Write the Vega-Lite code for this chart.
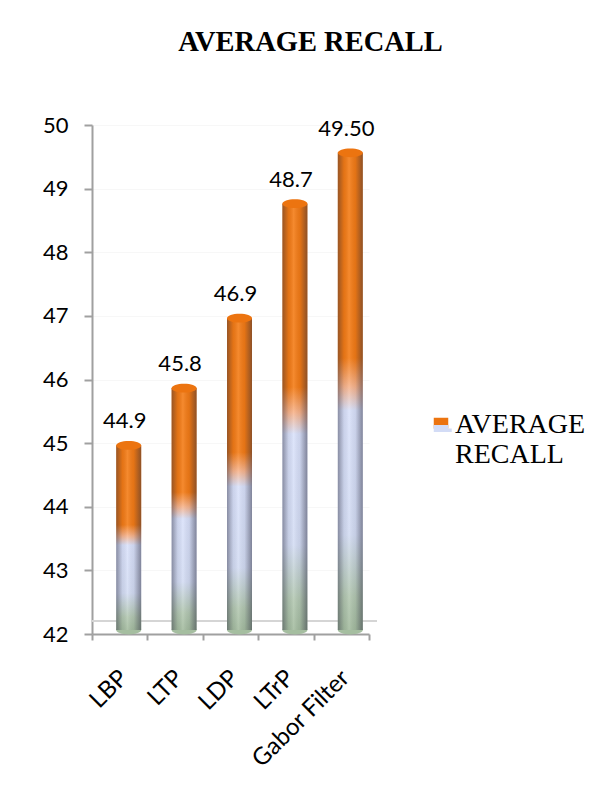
{
  "$schema": "https://vega.github.io/schema/vega-lite/v6.json",
  "width": 277,
  "height": 509,
  "autosize": "none",
  "padding": {"left": 92, "top": 125, "right": 231, "bottom": 175},
  "background": "white",
  "config": {"view": {"stroke": null}},
  "title": {
    "text": "AVERAGE RECALL",
    "font": "Liberation Serif",
    "fontSize": 28.5,
    "fontWeight": "bold",
    "color": "#000000",
    "anchor": "middle",
    "frame": "group",
    "baseline": "alphabetic",
    "dx": 80,
    "offset": 35
  },
  "data": {
    "values": [
      {"method": "LBP", "recall": 44.9, "label": "44.9", "series": "AVERAGE RECALL"},
      {"method": "LTP", "recall": 45.8, "label": "45.8", "series": "AVERAGE RECALL"},
      {"method": "LDP", "recall": 46.9, "label": "46.9", "series": "AVERAGE RECALL"},
      {"method": "LTrP", "recall": 48.7, "label": "48.7", "series": "AVERAGE RECALL"},
      {"method": "Gabor Filter", "recall": 49.5, "label": "49.50", "series": "AVERAGE RECALL"}
    ]
  },
  "encoding": {
    "x": {
      "field": "method",
      "type": "nominal",
      "sort": null,
      "scale": {"paddingInner": 0, "paddingOuter": 0},
      "axis": {
        "title": null,
        "labelAngle": -45,
        "labelAlign": "right",
        "labelBaseline": "middle",
        "labelFont": "Lato",
        "labelFontSize": 24,
        "labelColor": "#000000",
        "labelPadding": 34,
        "labelOffset": 4,
        "labelLimit": 300,
        "domainColor": "#A0A0A0",
        "domainWidth": 2,
        "tickColor": "#A0A0A0",
        "tickWidth": 2,
        "tickSize": 6,
        "tickBand": "extent"
      }
    }
  },
  "layer": [
    {
      "mark": {"type": "rule", "color": "#D4D4D4", "strokeWidth": 1.5, "yOffset": -13, "xOffset": 8, "x2Offset": 16},
      "encoding": {"x": null, "y": {"datum": 42, "type": "quantitative", "scale": {"domain": [42, 50], "nice": false, "zero": false}}}
    },
    {
      "mark": {
        "type": "point",
        "shape": "M -1 0 A 1 0.35 0 1 0 1 0 A 1 0.35 0 1 0 -1 0 Z",
        "size": 625,
        "filled": true,
        "opacity": 1,
        "fill": "#A5BEA0",
        "strokeWidth": 0,
        "xOffset": 9,
        "yOffset": -4
      },
      "encoding": {"y": {"datum": 42, "type": "quantitative"}}
    },
    {
      "mark": {
        "type": "bar",
        "width": 25,
        "xOffset": 9,
        "yOffset": -4,
        "y2Offset": -4,
        "fill": {
          "gradient": "linear", "x1": 0, "y1": 0, "x2": 0, "y2": 1,
          "stops": [
            {"offset": 0, "color": "#F47A12"},
            {"offset": 0.43, "color": "#F47A12"},
            {"offset": 0.49, "color": "#F8B38A"},
            {"offset": 0.54, "color": "#D9E1FA"},
            {"offset": 0.8, "color": "#D3DCF3"},
            {"offset": 0.93, "color": "#B2C7B0"},
            {"offset": 1, "color": "#A3BB9E"}
          ]
        }
      },
      "encoding": {
        "y": {
          "field": "recall",
          "type": "quantitative",
          "scale": {"domain": [42, 50], "nice": false, "zero": false},
          "axis": {
            "title": null,
            "values": [42, 43, 44, 45, 46, 47, 48, 49, 50],
            "format": "d",
            "labelFont": "Lato",
            "labelFontSize": 22,
            "labelColor": "#000000",
            "labelPadding": 16,
            "tickSize": 8,
            "tickColor": "#A0A0A0",
            "tickWidth": 2,
            "domainColor": "#A0A0A0",
            "domainWidth": 2,
            "grid": true,
            "gridColor": "#F7F7F7"
          }
        },
        "y2": {"datum": 42}
      }
    },
    {
      "mark": {
        "type": "bar",
        "width": 25,
        "xOffset": 9,
        "yOffset": -4,
        "y2Offset": -4,
        "fill": {
          "gradient": "linear", "x1": 0, "y1": 0, "x2": 1, "y2": 0,
          "stops": [
            {"offset": 0, "color": "rgba(40,40,60,0.45)"},
            {"offset": 0.25, "color": "rgba(40,40,60,0.08)"},
            {"offset": 0.45, "color": "rgba(255,255,255,0.12)"},
            {"offset": 0.7, "color": "rgba(40,40,60,0.08)"},
            {"offset": 1, "color": "rgba(40,40,60,0.5)"}
          ]
        }
      },
      "encoding": {
        "y": {"field": "recall", "type": "quantitative"},
        "y2": {"datum": 42}
      }
    },
    {
      "mark": {
        "type": "point",
        "shape": "M -1 0 A 1 0.35 0 1 0 1 0 A 1 0.35 0 1 0 -1 0 Z",
        "size": 625,
        "filled": true,
        "opacity": 1,
        "strokeWidth": 0,
        "xOffset": 9,
        "yOffset": -4
      },
      "encoding": {
        "y": {"field": "recall", "type": "quantitative"},
        "color": {
          "field": "series",
          "type": "nominal",
          "scale": {"range": ["#EC7410"]},
          "legend": {
            "orient": "none",
            "legendX": 335,
            "legendY": 286,
            "title": null,
            "padding": 0,
            "symbolType": "M -1 0.5 L 1 0.5 L 1 -1 L -1 -1 Z",
            "symbolSize": 210,
            "symbolStrokeColor": "#D3DCF6",
            "symbolStrokeWidth": 7,
            "symbolDash": [14.5, 1000],
            "labelFont": "Liberation Serif",
            "labelFontSize": 28,
            "labelColor": "#000000",
            "labelLimit": 400,
            "labelOffset": 0,
            "labelExpr": "['AVERAGE', 'RECALL']",
            "encode": {
              "labels": {"update": {"lineHeight": {"value": 31}}}
            }
          }
        }
      }
    },
    {
      "mark": {
        "type": "text",
        "font": "Lato",
        "fontSize": 22,
        "color": "#000000",
        "baseline": "alphabetic",
        "align": "center",
        "dx": 5,
        "dy": -21
      },
      "encoding": {
        "y": {"field": "recall", "type": "quantitative"},
        "text": {"field": "label"}
      }
    }
  ]
}
